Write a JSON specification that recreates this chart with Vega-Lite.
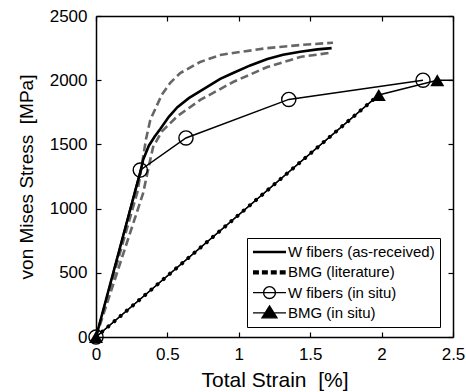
{
  "$schema": "https://vega.github.io/schema/vega-lite/v6.json",
  "width": 357,
  "height": 321,
  "autosize": {"type": "none"},
  "padding": {"left": 96, "top": 16, "right": 13, "bottom": 55},
  "config": {
    "view": {"stroke": null},
    "font": "Liberation Sans",
    "axis": {
      "domainColor": "black",
      "domainWidth": 1.5,
      "tickColor": "black",
      "tickWidth": 1.2,
      "grid": false,
      "labelColor": "black",
      "titleColor": "black",
      "labelFont": "Liberation Sans",
      "titleFont": "Liberation Sans",
      "labelFontSize": 17,
      "titleFontSize": 20,
      "titleFontWeight": "normal"
    }
  },
  "datasets": {
    "bounds": [
      {"series": "upper", "strain": 0, "stress": 0},
      {"series": "upper", "strain": 0.29, "stress": 1130},
      {"series": "upper", "strain": 0.32, "stress": 1330},
      {"series": "upper", "strain": 0.35, "stress": 1540},
      {"series": "upper", "strain": 0.38, "stress": 1690},
      {"series": "upper", "strain": 0.46, "stress": 1885},
      {"series": "upper", "strain": 0.52, "stress": 1980},
      {"series": "upper", "strain": 0.59, "stress": 2056},
      {"series": "upper", "strain": 0.73, "stress": 2142},
      {"series": "upper", "strain": 0.87, "stress": 2196},
      {"series": "upper", "strain": 0.96, "stress": 2212},
      {"series": "upper", "strain": 1.2, "stress": 2250},
      {"series": "upper", "strain": 1.43, "stress": 2274},
      {"series": "upper", "strain": 1.66, "stress": 2292},
      {"series": "lower", "strain": 0, "stress": 0},
      {"series": "lower", "strain": 0.33, "stress": 1120},
      {"series": "lower", "strain": 0.37, "stress": 1330},
      {"series": "lower", "strain": 0.4, "stress": 1480},
      {"series": "lower", "strain": 0.46, "stress": 1600},
      {"series": "lower", "strain": 0.57, "stress": 1720},
      {"series": "lower", "strain": 0.73, "stress": 1846},
      {"series": "lower", "strain": 0.96, "stress": 1986},
      {"series": "lower", "strain": 1.2, "stress": 2103},
      {"series": "lower", "strain": 1.43, "stress": 2181},
      {"series": "lower", "strain": 1.65, "stress": 2215}
    ],
    "asReceived": [
      {"strain": 0, "stress": 0},
      {"strain": 0.29, "stress": 1200},
      {"strain": 0.31, "stress": 1280},
      {"strain": 0.33, "stress": 1380},
      {"strain": 0.37, "stress": 1490},
      {"strain": 0.41, "stress": 1560},
      {"strain": 0.45, "stress": 1620},
      {"strain": 0.51, "stress": 1715},
      {"strain": 0.57, "stress": 1790},
      {"strain": 0.65, "stress": 1860},
      {"strain": 0.73, "stress": 1915},
      {"strain": 0.87, "stress": 2010},
      {"strain": 0.96, "stress": 2056},
      {"strain": 1.08, "stress": 2115},
      {"strain": 1.2, "stress": 2165},
      {"strain": 1.31, "stress": 2198},
      {"strain": 1.43, "stress": 2222},
      {"strain": 1.55, "stress": 2240},
      {"strain": 1.65, "stress": 2250}
    ],
    "literature": [
      {"strain": 0, "stress": 0},
      {"strain": 1.98, "stress": 1885}
    ],
    "wInSitu": [
      {"strain": 0, "stress": 0},
      {"strain": 0.31, "stress": 1300},
      {"strain": 0.63, "stress": 1550},
      {"strain": 1.35, "stress": 1850},
      {"strain": 2.29, "stress": 2000}
    ],
    "bmgInSitu": [
      {"strain": 0, "stress": 0},
      {"strain": 1.98, "stress": 1885},
      {"strain": 2.39, "stress": 2000},
      {"strain": 2.5, "stress": 2000}
    ],
    "legendRows": [
      {"series": "W fibers (as-received)", "strain": 0, "stress": 0},
      {"series": "BMG (literature)", "strain": 0, "stress": 0},
      {"series": "W fibers (in situ)", "strain": 0, "stress": 0},
      {"series": "BMG (in situ)", "strain": 0, "stress": 0}
    ]
  },
  "resolve": {"axis": {"x": "independent", "y": "independent"}},
  "layer": [
    {
      "data": {"name": "bounds"},
      "mark": {"type": "line", "color": "#666666", "strokeWidth": 2.6, "strokeDash": [8, 4]},
      "encoding": {
        "x": {
          "field": "strain", "type": "quantitative",
          "scale": {"domain": [0, 2.5], "nice": false, "zero": false},
          "axis": {
            "orient": "bottom",
            "values": [0, 0.5, 1, 1.5, 2, 2.5],
            "format": "~g",
            "tickSize": -5,
            "labelPadding": 14,
            "labelFlush": false,
            "title": "Total Strain\u00a0\u00a0[%]",
            "titleFontSize": 21,
            "titlePadding": 7
          }
        },
        "y": {
          "field": "stress", "type": "quantitative",
          "scale": {"domain": [0, 2500], "nice": false, "zero": false},
          "axis": {
            "orient": "left",
            "values": [0, 500, 1000, 1500, 2000, 2500],
            "format": "d",
            "tickSize": -5,
            "labelPadding": 14,
            "labelFlush": false,
            "title": "von Mises Stress\u00a0\u00a0[MPa]",
            "titleFontSize": 19,
            "titlePadding": 13
          }
        },
        "detail": {"field": "series"}
      }
    },
    {
      "data": {"name": "literature"},
      "mark": {"type": "line", "color": "black", "strokeWidth": 1.2},
      "encoding": {
        "x": {"field": "strain", "type": "quantitative", "axis": null},
        "y": {"field": "stress", "type": "quantitative", "axis": null}
      }
    },
    {
      "data": {"name": "literature"},
      "mark": {"type": "line", "color": "black", "strokeWidth": 4, "strokeDash": [0.1, 8], "strokeCap": "round"},
      "encoding": {
        "x": {"field": "strain", "type": "quantitative", "axis": null},
        "y": {"field": "stress", "type": "quantitative", "axis": null}
      }
    },
    {
      "data": {"name": "asReceived"},
      "mark": {"type": "line", "color": "black", "strokeWidth": 2.6},
      "encoding": {
        "x": {"field": "strain", "type": "quantitative", "axis": null},
        "y": {"field": "stress", "type": "quantitative", "axis": null}
      }
    },
    {
      "data": {"name": "wInSitu"},
      "mark": {"type": "line", "color": "black", "strokeWidth": 1.4},
      "encoding": {
        "x": {"field": "strain", "type": "quantitative", "axis": null},
        "y": {"field": "stress", "type": "quantitative", "axis": null}
      }
    },
    {
      "data": {"name": "wInSitu"},
      "mark": {"type": "point", "shape": "circle", "filled": false, "color": "black", "strokeWidth": 1.4, "size": 200, "opacity": 1},
      "encoding": {
        "x": {"field": "strain", "type": "quantitative", "axis": null},
        "y": {"field": "stress", "type": "quantitative", "axis": null}
      }
    },
    {
      "data": {"name": "bmgInSitu"},
      "mark": {"type": "line", "color": "black", "strokeWidth": 1.4},
      "encoding": {
        "x": {"field": "strain", "type": "quantitative", "axis": null},
        "y": {"field": "stress", "type": "quantitative", "axis": null}
      }
    },
    {
      "data": {"name": "bmgInSitu"},
      "transform": [{"filter": "datum.strain < 2.45"}],
      "mark": {"type": "point", "shape": "triangle-up", "filled": true, "color": "black", "size": 196, "opacity": 1},
      "encoding": {
        "x": {"field": "strain", "type": "quantitative", "axis": null},
        "y": {"field": "stress", "type": "quantitative", "axis": null}
      }
    },
    {
      "data": {"name": "legendRows"},
      "mark": {"type": "point", "opacity": 0, "strokeWidth": 1.4},
      "encoding": {
        "x": {
          "field": "strain", "type": "quantitative",
          "axis": {"orient": "top", "values": [0, 0.5, 1, 1.5, 2, 2.5], "tickSize": -5, "labels": false, "title": null}
        },
        "y": {
          "field": "stress", "type": "quantitative",
          "axis": {"orient": "right", "values": [0, 500, 1000, 1500, 2000, 2500], "tickSize": -5, "labels": false, "title": null}
        },
        "fill": {
          "field": "series", "type": "nominal",
          "scale": {
            "domain": ["W fibers (as-received)", "BMG (literature)", "W fibers (in situ)", "BMG (in situ)"],
            "range": ["black", "black", "transparent", "black"]
          }
        },
        "stroke": {
          "field": "series", "type": "nominal",
          "scale": {
            "domain": ["W fibers (as-received)", "BMG (literature)", "W fibers (in situ)", "BMG (in situ)"],
            "range": ["transparent", "transparent", "black", "black"]
          }
        },
        "shape": {
          "field": "series", "type": "nominal",
          "scale": {
            "domain": ["W fibers (as-received)", "BMG (literature)", "W fibers (in situ)", "BMG (in situ)"],
            "range": [
              "M-1,-0.075H1V0.075H-1Z",
              "M-1,-0.13h0.36v0.26h-0.36z M-0.46,-0.13h0.36v0.26h-0.36z M0.08,-0.13h0.36v0.26h-0.36z M0.62,-0.13h0.36v0.26h-0.36z",
              "M-1,0H1 M-0.36,0A0.36,0.36 0 1,0 0.36,0A0.36,0.36 0 1,0 -0.36,0",
              "M-1,0H1 M0,-0.42L0.45,0.3L-0.45,0.3Z"
            ]
          },
          "legend": {
            "title": null,
            "orient": "none",
            "legendX": 151,
            "legendY": 222,
            "symbolSize": 1089,
            "symbolStrokeWidth": 1.4,
            "symbolOpacity": 1,
            "clipHeight": 18,
            "rowPadding": 2.3,
            "labelOffset": 1,
            "labelFont": "Liberation Sans",
            "labelFontSize": 15,
            "labelColor": "black",
            "labelLimit": 300,
            "padding": 5,
            "strokeColor": "black",
            "fillColor": "white"
          }
        }
      }
    }
  ]
}
